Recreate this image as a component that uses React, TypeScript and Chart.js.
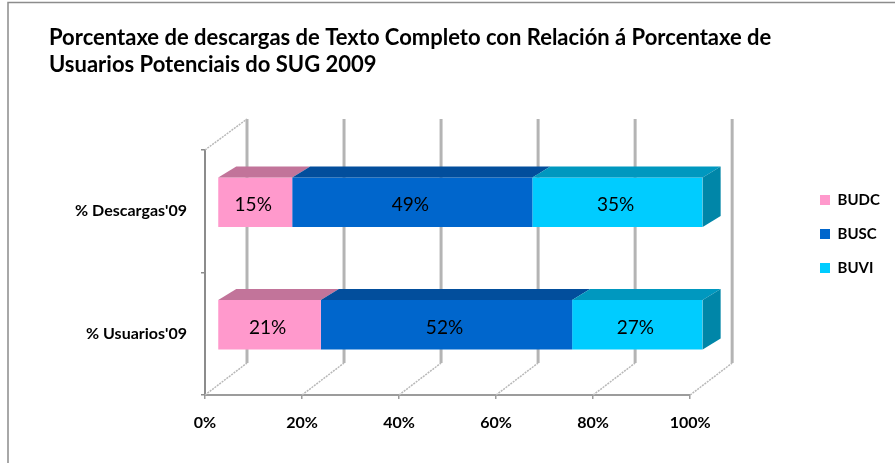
import React, { useEffect, useRef } from "react";
import { Chart, registerables } from "chart.js";

Chart.register(...registerables);

const categories = ["% Descargas'09", "% Usuarios'09"];
const seriesNames = ["BUDC", "BUSC", "BUVI"];
const budc = [15.4, 21.3];
const busc = [49.5, 51.8];
const buvi = [35.1, 26.9];
const budcLabels = ["15%", "21%"];
const buscLabels = ["49%", "52%"];
const buviLabels = ["35%", "27%"];
const titleLines = [
  "Porcentaxe de descargas de Texto Completo con Relación á Porcentaxe de",
  "Usuarios Potenciais do SUG 2009",
];
const FONT = "Lato, Carlito, sans-serif";

const faces = [
  { front: "#ff99cc", top: "#c2749a" },
  { front: "#0066cc", top: "#024e9c" },
  { front: "#00ccff", top: "#0098bf" },
];
const sideColor = "#0086a8";
const wall = { dx: 42, dy: -31, floorDy: -32 };
const barShift = { x: 12.5, y: -9 };
const depth = { x: 18, y: -11 };
const labelSets = [budcLabels, buscLabels, buviLabels];

const threeD = {
  id: "threeD",
  beforeDraw(chart: any) {
    const { ctx } = chart;
    ctx.save();
    ctx.fillStyle = "#ffffff";
    ctx.fillRect(0, 0, chart.width, chart.height);
    ctx.strokeStyle = "#8c8c8c";
    ctx.lineWidth = 1.5;
    ctx.strokeRect(8, 2.5, 900, 470);
    ctx.restore();
    if (chart.legend) {
      chart.legend.left = 801;
      chart.legend.right = 895;
    }
  },
  beforeDatasetsDraw(chart: any) {
    const { ctx, scales, chartArea } = chart;
    const x = scales.x;
    ctx.save();
    x.ticks.forEach((t: any) => {
      const px = x.getPixelForValue(t.value);
      ctx.strokeStyle = "#b4b4b4";
      ctx.lineWidth = 3;
      ctx.beginPath();
      ctx.moveTo(px + wall.dx, chartArea.top + wall.dy);
      ctx.lineTo(px + wall.dx, chartArea.bottom + wall.floorDy);
      ctx.stroke();
      ctx.strokeStyle = "#b8b8b8";
      ctx.lineWidth = 1.5;
      ctx.setLineDash([2, 1]);
      ctx.beginPath();
      ctx.moveTo(px, chartArea.bottom);
      ctx.lineTo(px + wall.dx, chartArea.bottom + wall.floorDy);
      ctx.stroke();
      ctx.setLineDash([]);
    });
    const left = x.getPixelForValue(0);
    ctx.strokeStyle = "#b8b8b8";
    ctx.lineWidth = 1.5;
    ctx.setLineDash([2, 1]);
    ctx.beginPath();
    ctx.moveTo(left, chartArea.top);
    ctx.lineTo(left + wall.dx, chartArea.top + wall.dy);
    ctx.stroke();
    ctx.restore();
    ctx.save();
    ctx.translate(barShift.x, barShift.y);
  },
  afterDatasetsDraw(chart: any) {
    const { ctx } = chart;
    chart.data.datasets.forEach((_: any, di: number) => {
      chart.getDatasetMeta(di).data.forEach((bar: any, i: number) => {
        const p = bar.getProps(["x", "y", "base", "height"], true);
        const t = p.y - p.height / 2;
        const b = p.y + p.height / 2;
        ctx.fillStyle = faces[di].top;
        ctx.beginPath();
        ctx.moveTo(p.base, t);
        ctx.lineTo(p.base + depth.x, t + depth.y);
        ctx.lineTo(p.x + depth.x, t + depth.y);
        ctx.lineTo(p.x, t);
        ctx.closePath();
        ctx.fill();
        if (di === chart.data.datasets.length - 1) {
          ctx.fillStyle = sideColor;
          ctx.beginPath();
          ctx.moveTo(p.x, t);
          ctx.lineTo(p.x + depth.x, t + depth.y);
          ctx.lineTo(p.x + depth.x, b + depth.y);
          ctx.lineTo(p.x, b);
          ctx.closePath();
          ctx.fill();
        }
        ctx.fillStyle = "#000000";
        ctx.font = `19px ${FONT}`;
        ctx.textAlign = "center";
        ctx.textBaseline = "middle";
        ctx.fillText(labelSets[di][i], (p.base + p.x) / 2 - 2, p.y + 3);
      });
    });
    ctx.restore();
  },
};

export default function App() {
  const ref = useRef<HTMLCanvasElement>(null);
  useEffect(() => {
    const chart = new Chart(ref.current as HTMLCanvasElement, {
      type: "bar",
      plugins: [threeD],
      data: {
        labels: categories,
        datasets: [budc, busc, buvi].map((values, i) => ({
          label: seriesNames[i],
          data: values,
          backgroundColor: faces[i].front,
          borderWidth: 0,
          categoryPercentage: 1,
          barPercentage: 0.405,
        })),
      },
      options: {
        indexAxis: "y",
        responsive: false,
        animation: false,
        layout: { padding: { left: 49, right: 116, top: 16, bottom: 11 } },
        scales: {
          x: {
            stacked: true,
            min: 0,
            max: 100,
            afterFit: (s: any) => { s.height = 57; },
            ticks: {
              stepSize: 20,
              callback: (v: any) => `${v}%`,
              color: "#000000",
              font: { family: FONT, size: 16, weight: "bold" },
              padding: 14,
              maxRotation: 0,
            },
            grid: { drawOnChartArea: false, drawTicks: true, tickLength: 4, color: "#9c9c9c", lineWidth: 1.5 },
            border: { color: "#9c9c9c", width: 2 },
          },
          y: {
            stacked: true,
            afterFit: (s: any) => { s.width = 156; },
            ticks: {
              color: "#000000",
              font: { family: FONT, size: 16, weight: "bold" },
              padding: 14,
            },
            grid: { drawOnChartArea: false, drawTicks: true, tickLength: 4, color: "#8c8c8c", lineWidth: 1.5 },
            border: { color: "#8c8c8c", width: 2 },
          },
        },
        plugins: {
          tooltip: { enabled: false },
          title: {
            display: true,
            text: titleLines,
            align: "start",
            color: "#000000",
            font: { family: FONT, size: 22, weight: "bold", lineHeight: 1.227 },
            padding: { top: 8, bottom: 72 },
          },
          legend: {
            position: "right",
            align: "center",
            labels: {
              boxWidth: 10,
              boxHeight: 10,
              padding: 19,
              color: "#000000",
              font: { family: FONT, size: 15, weight: "bold" },
            },
          },
        },
      },
    } as any);
    return () => chart.destroy();
  }, []);
  return (
    <div style={{ position: "absolute", left: 0, top: 0, width: 895, height: 463 }}>
      <canvas ref={ref} width={895} height={463} style={{ display: "block" }} />
    </div>
  );
}
